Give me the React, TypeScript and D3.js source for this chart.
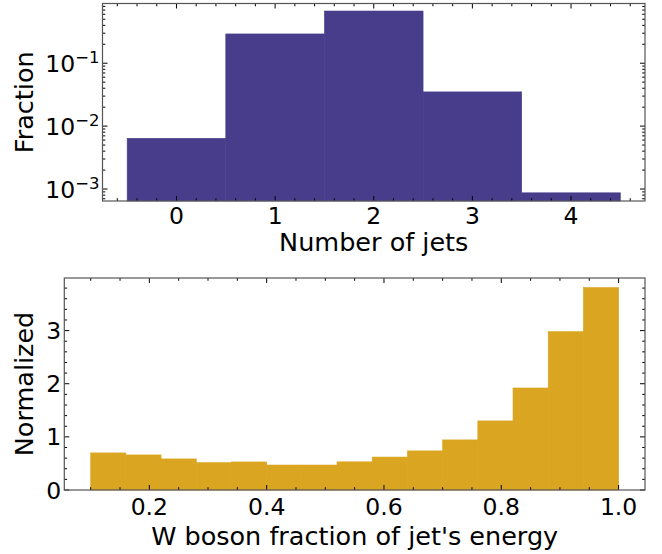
import React from "react";
import * as d3 from "d3";

const jetCounts = [0, 1, 2, 3, 4];
const jetFractions = [0.0064, 0.292, 0.676, 0.035, 0.00087];

const wEdges = [0.1, 0.16, 0.22, 0.28, 0.34, 0.4, 0.46, 0.52, 0.58, 0.64, 0.7, 0.76, 0.82, 0.88, 0.94, 1.0];
const wValues = [0.698, 0.66, 0.585, 0.515, 0.528, 0.47, 0.47, 0.53, 0.62, 0.736, 0.943, 1.3, 1.92, 2.98, 3.81];

const topXTicks = [0, 1, 2, 3, 4];
const topYTicks = [1e-3, 1e-2, 1e-1];
const botXTicks = [0.2, 0.4, 0.6, 0.8, 1.0];
const botYTicks = [0, 1, 2, 3];

const FONT = "DejaVu Sans";
const TICK_FS = 23.5;
const LABEL_FS = 25.5;
const SPINE = "#555";
const TOP_COLOR = "#483D8B";
const BOT_COLOR = "#DAA520";

export default function App() {
  // top panel
  const tL = 102.5, tR = 645, tT = 3.5, tB = 201;
  const tx = d3.scaleLinear().domain([-0.75, 4.75]).range([tL, tR]);
  const ty = d3.scaleLog().domain([6.45e-4, 0.89]).range([tB, tT]);
  const tMinorX = d3.range(-0.6, 4.75, 0.2).filter((v) => Math.abs(v - Math.round(v)) > 1e-6);
  const tMinorY: number[] = [];
  for (let k = -4; k <= 0; k++) {
    for (let m = 2; m <= 9; m++) {
      const v = m * Math.pow(10, k);
      if (v >= 6.45e-4 && v <= 0.89) tMinorY.push(v);
    }
  }

  // bottom panel
  const bL = 64.3, bR = 645, bT = 278, bB = 490;
  const bx = d3.scaleLinear().domain([0.055, 1.045]).range([bL, bR]);
  const by = d3.scaleLinear().domain([0, 3.99]).range([bB, bT]);
  const bMinorX = d3.range(0.1, 1.045, 0.05).filter((v) => Math.abs(v * 5 - Math.round(v * 5)) > 1e-6);
  const bMinorY = d3.range(0.2, 3.99, 0.2).filter((v) => Math.abs(v - Math.round(v)) > 1e-6);

  const MAJ = 5, MIN = 2.8;

  const xTickMarks = (xs: number[], sx: (v: number) => number, top: number, bottom: number, len: number, key: string) =>
    xs.map((v, i) => (
      <g key={key + i}>
        <line x1={sx(v)} x2={sx(v)} y1={bottom} y2={bottom - len} stroke="#000" strokeWidth={1} />
        <line x1={sx(v)} x2={sx(v)} y1={top} y2={top + len} stroke="#000" strokeWidth={1} />
      </g>
    ));
  const yTickMarks = (ys: number[], sy: (v: number) => number, left: number, right: number, len: number, key: string) =>
    ys.map((v, i) => (
      <g key={key + i}>
        <line x1={left} x2={left + len} y1={sy(v)} y2={sy(v)} stroke="#000" strokeWidth={1} />
        <line x1={right} x2={right - len} y1={sy(v)} y2={sy(v)} stroke="#000" strokeWidth={1} />
      </g>
    ));

  return (
    <svg width={662} height={554} style={{ position: "absolute", left: 0, top: 0, background: "#fff" }} fontFamily={FONT}>
      <rect x={0} y={0} width={662} height={554} fill="#fff" />
      {/* Top panel bars */}
      {jetCounts.map((c, i) => (
        <rect
          key={"tb" + i}
          x={tx(c - 0.5)}
          y={ty(jetFractions[i])}
          width={tx(c + 0.5) - tx(c - 0.5)}
          height={tB - ty(jetFractions[i])}
          fill={TOP_COLOR}
          stroke={TOP_COLOR}
          strokeWidth={0.6}
        />
      ))}
      {xTickMarks(tMinorX, tx, tT, tB, MIN, "tmx")}
      {xTickMarks(topXTicks, tx, tT, tB, MAJ, "tMx")}
      {yTickMarks(tMinorY, ty, tL, tR, MIN, "tmy")}
      {yTickMarks(topYTicks, ty, tL, tR, MAJ, "tMy")}
      <rect x={tL} y={tT} width={tR - tL} height={tB - tT} fill="none" stroke={SPINE} strokeWidth={1.2} />
      {topXTicks.map((v) => (
        <text key={"tl" + v} x={tx(v)} y={224} textAnchor="middle" fontSize={TICK_FS}>
          {v}
        </text>
      ))}
      {topYTicks.map((v) => (
        <text key={"tyl" + v} x={tL - 3} y={ty(v) + 8.5} textAnchor="end" fontSize={TICK_FS}>
          <tspan>10</tspan>
          <tspan dy={-8.5} fontSize={16.5}>{"\u2212" + Math.round(-Math.log10(v))}</tspan>
        </text>
      ))}
      <text x={(tL + tR) / 2} y={251} textAnchor="middle" fontSize={LABEL_FS}>
        Number of jets
      </text>
      <text transform={`translate(33,${(tT + tB) / 2}) rotate(-90)`} textAnchor="middle" fontSize={LABEL_FS}>
        Fraction
      </text>

      {/* Bottom panel bars */}
      {wValues.map((v, i) => (
        <rect
          key={"bb" + i}
          x={bx(wEdges[i])}
          y={by(v)}
          width={bx(wEdges[i + 1]) - bx(wEdges[i])}
          height={bB - by(v)}
          fill={BOT_COLOR}
          stroke={BOT_COLOR}
          strokeWidth={0.6}
        />
      ))}
      {xTickMarks(bMinorX, bx, bT, bB, MIN, "bmx")}
      {xTickMarks(botXTicks, bx, bT, bB, MAJ, "bMx")}
      {yTickMarks(bMinorY, by, bL, bR, MIN, "bmy")}
      {yTickMarks(botYTicks, by, bL, bR, MAJ, "bMy")}
      <rect x={bL} y={bT} width={bR - bL} height={bB - bT} fill="none" stroke={SPINE} strokeWidth={1.2} />
      {botXTicks.map((v) => (
        <text key={"bl" + v} x={bx(v)} y={515} textAnchor="middle" fontSize={TICK_FS}>
          {v.toFixed(1)}
        </text>
      ))}
      {botYTicks.map((v) => (
        <text key={"byl" + v} x={bL - 3} y={by(v) + 8.5} textAnchor="end" fontSize={TICK_FS}>
          {v}
        </text>
      ))}
      <text x={(bL + bR) / 2} y={545} textAnchor="middle" fontSize={LABEL_FS}>
        W boson fraction of jet's energy
      </text>
      <text transform={`translate(33,${(bT + bB) / 2}) rotate(-90)`} textAnchor="middle" fontSize={LABEL_FS}>
        Normalized
      </text>
    </svg>
  );
}
